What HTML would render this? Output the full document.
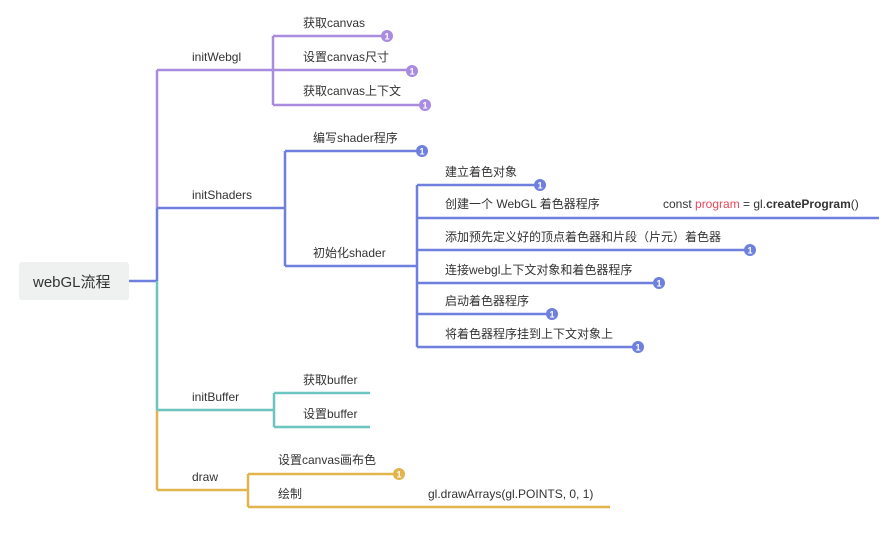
<!DOCTYPE html>
<html><head><meta charset="utf-8"><style>
html,body{margin:0;padding:0;background:#fff;}
svg{display:block;}
text{font-family:"Liberation Sans","Noto Sans CJK SC",sans-serif;font-size:12px;fill:#333;}
.b{fill:#fff;font-size:9px;font-weight:bold;text-anchor:middle;}
</style></head><body>
<svg width="896" height="537" viewBox="0 0 896 537" fill="none" stroke-width="2.5">
<rect x="19" y="262" width="110" height="38" rx="3" fill="#eff0f0"/>
<text x="33" y="287" style="font-size:15px">webGL流程</text>
<path d="M129 281H157" stroke="#6f7fdd"/>
<!-- trunk -->
<path d="M157 70V208" stroke="#a98be0"/>
<path d="M157 208V281" stroke="#6f7fdd"/>
<path d="M157 281V410" stroke="#6cc5c0"/>
<path d="M157 410V490" stroke="#e2b44e"/>
<!-- initWebgl -->
<g stroke="#a98be0">
<path d="M157 70H273M273 36V105M273 36H386M273 70H412M273 105H425"/>
</g>
<g fill="#a98be0"><circle cx="387" cy="36" r="6"/><circle cx="412" cy="71" r="6"/><circle cx="425" cy="105" r="6"/></g>
<text class="b" x="387" y="39.5">1</text><text class="b" x="412" y="74.5">1</text><text class="b" x="425" y="108.5">1</text>
<text x="192" y="61">initWebgl</text>
<text x="303" y="27">获取canvas</text>
<text x="303" y="61">设置canvas尺寸</text>
<text x="303" y="95">获取canvas上下文</text>
<!-- initShaders -->
<g stroke="#6f7fdd">
<path d="M157 208H285M285 151V266M285 151H422M285 266H417M417 185V347M417 185H540M417 218H879M417 250H750M417 283H659M417 314H552M417 347H638"/>
</g>
<g fill="#6f7fdd"><circle cx="422" cy="151" r="6"/><circle cx="540" cy="185" r="6"/><circle cx="750" cy="250" r="6"/><circle cx="659" cy="283" r="6"/><circle cx="552" cy="314" r="6"/><circle cx="638" cy="347" r="6"/></g>
<text class="b" x="422" y="154.5">1</text><text class="b" x="540" y="188.5">1</text><text class="b" x="750" y="253.5">1</text><text class="b" x="659" y="286.5">1</text><text class="b" x="552" y="317.5">1</text><text class="b" x="638" y="350.5">1</text>
<text x="192" y="199">initShaders</text>
<text x="313" y="142">编写shader程序</text>
<text x="313" y="257">初始化shader</text>
<text x="445" y="176">建立着色对象</text>
<text x="445" y="208">创建一个 WebGL 着色器程序</text>
<text x="663" y="208">const <tspan style="fill:#e8475a">program</tspan> = gl.<tspan style="font-weight:bold">createProgram</tspan>()</text>
<text x="445" y="241">添加预先定义好的顶点着色器和片段（片元）着色器</text>
<text x="445" y="274">连接webgl上下文对象和着色器程序</text>
<text x="445" y="305">启动着色器程序</text>
<text x="445" y="338">将着色器程序挂到上下文对象上</text>
<!-- initBuffer -->
<g stroke="#6cc5c0"><path d="M157 410H274M274 393V427M274 393H370M274 427H370"/></g>
<text x="192" y="401">initBuffer</text>
<text x="303" y="384">获取buffer</text>
<text x="303" y="418">设置buffer</text>
<!-- draw -->
<g stroke="#e2b44e"><path d="M157 490H248M248 474V507M248 474H399M248 507H610"/></g>
<circle cx="399" cy="474" r="6" fill="#e2b44e"/><text class="b" x="399" y="477.5">1</text>
<text x="192" y="481">draw</text>
<text x="278" y="464">设置canvas画布色</text>
<text x="278" y="498">绘制</text>
<text x="428" y="498">gl.drawArrays(gl.POINTS, 0, 1)</text>
</svg>
</body></html>
